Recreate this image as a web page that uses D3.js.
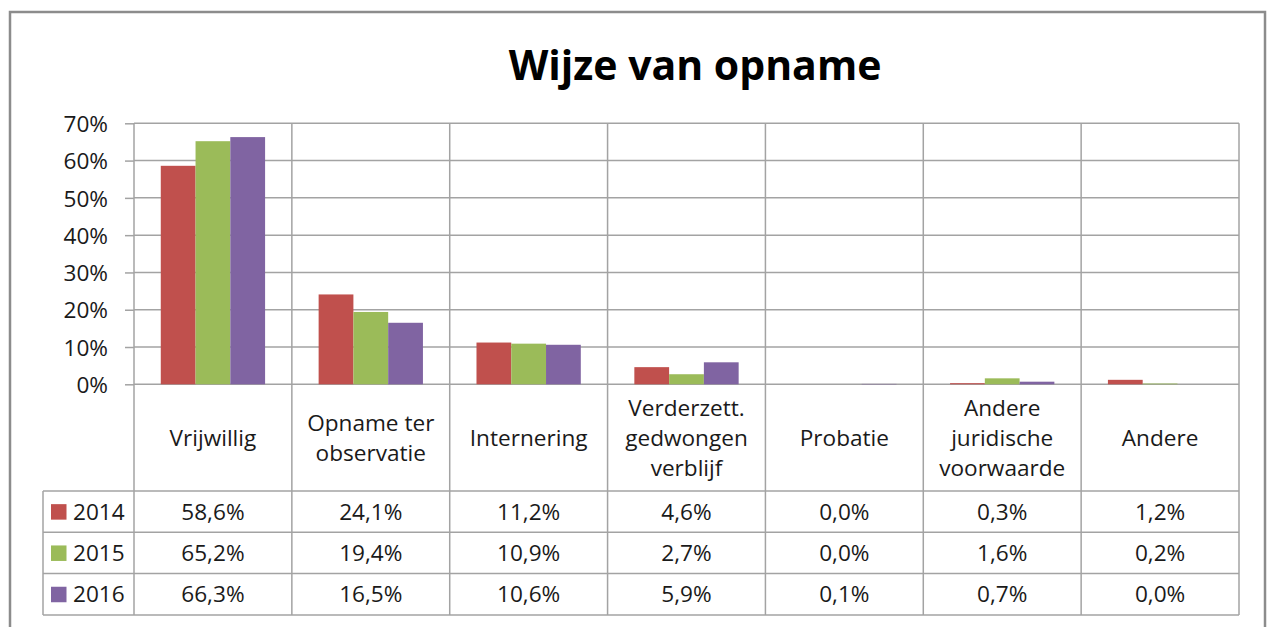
<!DOCTYPE html>
<html>
<head>
<meta charset="utf-8">
<script src="https://cdn.jsdelivr.net/npm/d3@7"></script>
<style>
  body { margin: 0; background: #fff; }
  svg text { font-family: "Open Sans", sans-serif; fill: #1a1a1a; }
</style>
</head>
<body>
<svg id="chart" width="1267" height="627"></svg>
<script>
// chart data
var title = "Wijze van opname";
var categories = ["Vrijwillig", "Opname ter\nobservatie", "Internering", "Verderzett.\ngedwongen\nverblijf", "Probatie", "Andere\njuridische\nvoorwaarde", "Andere"];
var years = ["2014", "2015", "2016"];
var values2014 = [58.6, 24.1, 11.2, 4.6, 0.0, 0.3, 1.2];
var values2015 = [65.2, 19.4, 10.9, 2.7, 0.0, 1.6, 0.2];
var values2016 = [66.3, 16.5, 10.6, 5.9, 0.1, 0.7, 0.0];
var yTicks = [0, 10, 20, 30, 40, 50, 60, 70];
var colors = ["#C0504D", "#9BBB59", "#8064A2"];

var series = [values2014, values2015, values2016];

var svg = d3.select("#chart");
var gridColor = "#a3a3a3";
var fontSize = "22.6px";

// layout
var plotLeft = 134, plotRight = 1239, plotTop = 123.3, plotBottom = 384.3;
var labelBottom = 491, rowH = 41.3, tableLeft = 43;

// outer border
svg.append("rect")
    .attr("x", 10).attr("y", 12)
    .attr("width", 1255).attr("height", 640)
    .attr("fill", "#fff")
    .attr("stroke", "#8c8c8c").attr("stroke-width", 2.5);

// title
svg.append("text")
    .attr("x", 695).attr("y", 80)
    .attr("text-anchor", "middle")
    .style("font-size", "41px").style("font-weight", "bold")
    .style("fill", "#000")
    .text(title);

var x = d3.scaleBand().domain(d3.range(categories.length)).range([plotLeft, plotRight]).padding(0);
var x1 = d3.scaleBand().domain(d3.range(years.length)).range([0, x.bandwidth()]).paddingInner(0).paddingOuter(0.77);
var y = d3.scaleLinear().domain([0, 70]).range([plotBottom, plotTop]);

// horizontal gridlines
svg.append("g").selectAll("line")
    .data(yTicks).enter()
    .append("line")
    .attr("x1", plotLeft).attr("x2", plotRight)
    .attr("y1", d => y(d)).attr("y2", d => y(d))
    .attr("stroke", gridColor).attr("stroke-width", 1.5);

// y axis
var yAxis = svg.append("g")
    .attr("transform", "translate(" + plotLeft + ",0)")
    .call(d3.axisLeft(y).tickValues(yTicks).tickSize(9).tickPadding(17).tickFormat(d => d + "%"));
yAxis.select(".domain").remove();
yAxis.selectAll(".tick line").attr("stroke", gridColor).attr("stroke-width", 1.5);
yAxis.selectAll(".tick text").style("font-size", fontSize).attr("dy", "0.36em").style("fill", "#1a1a1a");

// bars
series.forEach(function(vals, s) {
  svg.append("g").selectAll("rect")
      .data(vals).enter()
      .append("rect")
      .attr("x", (d, i) => x(i) + x1(s))
      .attr("width", x1.bandwidth())
      .attr("y", d => y(d))
      .attr("height", d => y(0) - y(d))
      .attr("fill", colors[s]);
});

// vertical category lines
var tableBottom = labelBottom + rowH * years.length;
svg.append("g").selectAll("line")
    .data(d3.range(categories.length + 1)).enter()
    .append("line")
    .attr("x1", i => i < categories.length ? x(i) : plotRight)
    .attr("x2", i => i < categories.length ? x(i) : plotRight)
    .attr("y1", plotTop).attr("y2", tableBottom)
    .attr("stroke", gridColor).attr("stroke-width", 1.5);

// table horizontal lines
svg.append("g").selectAll("line")
    .data(d3.range(years.length + 1)).enter()
    .append("line")
    .attr("x1", tableLeft).attr("x2", plotRight)
    .attr("y1", i => labelBottom + i * rowH).attr("y2", i => labelBottom + i * rowH)
    .attr("stroke", gridColor).attr("stroke-width", 1.5);
svg.append("line")
    .attr("x1", tableLeft).attr("x2", tableLeft)
    .attr("y1", labelBottom).attr("y2", tableBottom)
    .attr("stroke", gridColor).attr("stroke-width", 1.5);

// category labels
var labelMid = (plotBottom + labelBottom) / 2;
var catText = svg.append("g").selectAll("text")
    .data(categories).enter()
    .append("text")
    .attr("text-anchor", "middle")
    .style("font-size", fontSize);
catText.each(function(d, i) {
  var lines = d.split("\n");
  var t = d3.select(this);
  lines.forEach(function(line, k) {
    t.append("tspan")
        .attr("x", x(i) + x.bandwidth() / 2)
        .attr("y", labelMid + 8 + (k - (lines.length - 1) / 2) * 30)
        .text(line);
  });
});

// data table rows
var fmt = v => d3.format(".1f")(v).replace(".", ",") + "%";
years.forEach(function(yr, s) {
  var rowMid = labelBottom + (s + 0.5) * rowH;
  svg.append("rect")
      .attr("x", 51).attr("y", rowMid - 7.5)
      .attr("width", 15.5).attr("height", 15.5)
      .attr("fill", colors[s]);
  svg.append("text")
      .attr("x", 73).attr("y", rowMid + 8)
      .style("font-size", fontSize)
      .text(yr);
  svg.append("g").selectAll("text")
      .data(series[s]).enter()
      .append("text")
      .attr("x", (d, i) => x(i) + x.bandwidth() / 2)
      .attr("y", rowMid + 8)
      .attr("text-anchor", "middle")
      .style("font-size", fontSize)
      .text(d => fmt(d));
});
</script>
</body>
</html>
